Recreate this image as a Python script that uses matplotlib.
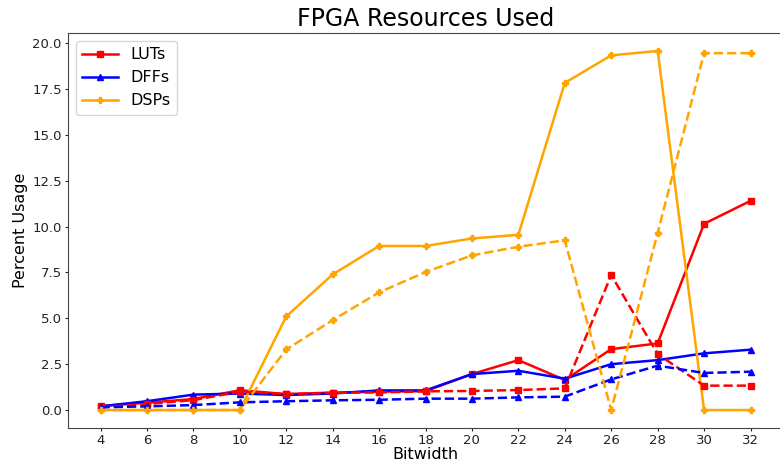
import numpy as np
import matplotlib
matplotlib.use("Agg")
import matplotlib.pyplot as plt

bitwidth = [4, 6, 8, 10, 12, 14, 16, 18, 20, 22, 24, 26, 28, 30, 32]

luts = [0.22, 0.4, 0.6, 1.08, 0.87, 0.95, 1.0, 1.03, 1.96, 2.72, 1.64, 3.32, 3.63, 10.15, 11.4]
luts_dash = [0.15, 0.33, 0.54, 1.0, 0.87, 0.94, 0.96, 1.02, 1.04, 1.09, 1.18, 7.36, 3.05, 1.33, 1.33]

dffs = [0.2, 0.48, 0.84, 0.9, 0.82, 0.9, 1.07, 1.07, 1.96, 2.14, 1.71, 2.5, 2.72, 3.09, 3.29]
dffs_dash = [0.15, 0.2, 0.27, 0.42, 0.48, 0.53, 0.56, 0.62, 0.62, 0.69, 0.73, 1.67, 2.42, 2.02, 2.09]

dsps = [0.0, 0.0, 0.0, 0.0, 5.1, 7.39, 8.94, 8.94, 9.35, 9.55, 17.83, 19.33, 19.57, 0.0, 0.0]
dsps_dash = [0.0, 0.0, 0.0, 0.0, 3.3, 4.9, 6.41, 7.52, 8.43, 8.9, 9.25, 0.0, 9.65, 19.45, 19.45]

fig = plt.figure(figsize=(7.8, 4.62), dpi=100)
ax = fig.add_axes([68 / 780, 34 / 462, 715 / 780, 395 / 462])

style = dict(markersize=4.8, linewidth=1.8)
ax.plot(bitwidth, luts, color="red", marker="s", label="LUTs", **style)
ax.plot(bitwidth, dffs, color="blue", marker="^", label="DFFs", **style)
ax.plot(bitwidth, dsps, color="orange", marker="P", label="DSPs", **style)

ax.plot(bitwidth, luts_dash, color="red", marker="s", linestyle="--", **style)
ax.plot(bitwidth, dffs_dash, color="blue", marker="^", linestyle="--", **style)
ax.plot(bitwidth, dsps_dash, color="orange", marker="P", linestyle="--", **style)

for spine in ax.spines.values():
    spine.set_color("#444444")

ax.set_xticks(bitwidth)
ax.set_yticks(np.arange(0, 20.1, 2.5))
ax.tick_params(labelsize=9.5, length=2, pad=2.5, colors="#222222")
ax.set_xlabel("Bitwidth", fontsize=11.5, labelpad=0)
ax.set_ylabel("Percent Usage", fontsize=11.5, labelpad=3)
ax.set_title("FPGA Resources Used", fontsize=17, pad=5)
ax.legend(loc="upper left", fontsize=11.5, handlelength=2.2, borderaxespad=0.5)

fig.savefig("out.png", dpi=100)
